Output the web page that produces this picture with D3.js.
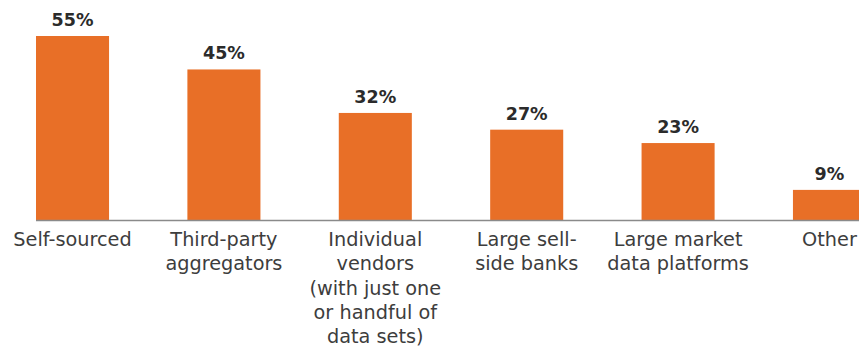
<!DOCTYPE html>
<html>
<head>
<meta charset="utf-8">
<script src="https://cdn.jsdelivr.net/npm/d3@7"></script>
<style>
  body { margin: 0; background: #fff; }
  svg { display: block; }
</style>
</head>
<body>
<div id="chart"></div>
<script>
const categories = [
  ['Self-sourced'],
  ['Third-party', 'aggregators'],
  ['Individual', 'vendors', '(with just one', 'or handful of', 'data sets)'],
  ['Large sell-', 'side banks'],
  ['Large market', 'data platforms'],
  ['Other']
];
const values = [55, 45, 32, 27, 23, 9];

const W = 859, H = 349;
const svg = d3.select('#chart').append('svg')
  .attr('width', W)
  .attr('height', H);

const data = categories.map((c, i) => ({ key: i, lines: c, value: values[i] }));

const x = d3.scaleBand()
  .domain(data.map(d => d.key))
  .range([36, 866])
  .paddingInner(0.5175)
  .paddingOuter(0);

const y = d3.scaleLinear().domain([0, 55]).range([220, 36]);

// bars
svg.selectAll('.bar')
  .data(data)
  .enter().append('rect')
  .attr('class', 'bar')
  .attr('x', d => x(d.key))
  .attr('y', d => y(d.value))
  .attr('width', x.bandwidth())
  .attr('height', d => y(0) - y(d.value))
  .attr('fill', '#e86f27');

// baseline
svg.append('line')
  .attr('x1', 36)
  .attr('x2', W)
  .attr('y1', y(0) + 0.5)
  .attr('y2', y(0) + 0.5)
  .attr('stroke', '#8a8a8a')
  .attr('stroke-width', 1.6);

// value labels
svg.selectAll('.val')
  .data(data)
  .enter().append('text')
  .attr('class', 'val')
  .attr('x', d => x(d.key) + x.bandwidth() / 2)
  .attr('y', d => y(d.value) - 10)
  .attr('text-anchor', 'middle')
  .style('font-family', '"DejaVu Sans", sans-serif')
  .style('font-weight', 700)
  .style('font-size', '17.5px')
  .style('fill', '#2b2b2b')
  .text(d => d.value + '%');

// category labels
const cat = svg.selectAll('.cat')
  .data(data)
  .enter().append('text')
  .attr('class', 'cat')
  .attr('x', d => x(d.key) + x.bandwidth() / 2)
  .attr('y', 246)
  .attr('text-anchor', 'middle')
  .style('font-family', '"DejaVu Sans", sans-serif')
  .style('font-weight', 400)
  .style('font-size', '19.3px')
  .style('fill', '#3d3d3d');

cat.selectAll('tspan')
  .data(d => d.lines.map(l => ({ l, cx: x(d.key) + x.bandwidth() / 2 })))
  .enter().append('tspan')
  .attr('x', t => t.cx)
  .attr('dy', (t, i) => i === 0 ? 0 : 24.3)
  .text(t => t.l);
</script>
</body>
</html>
